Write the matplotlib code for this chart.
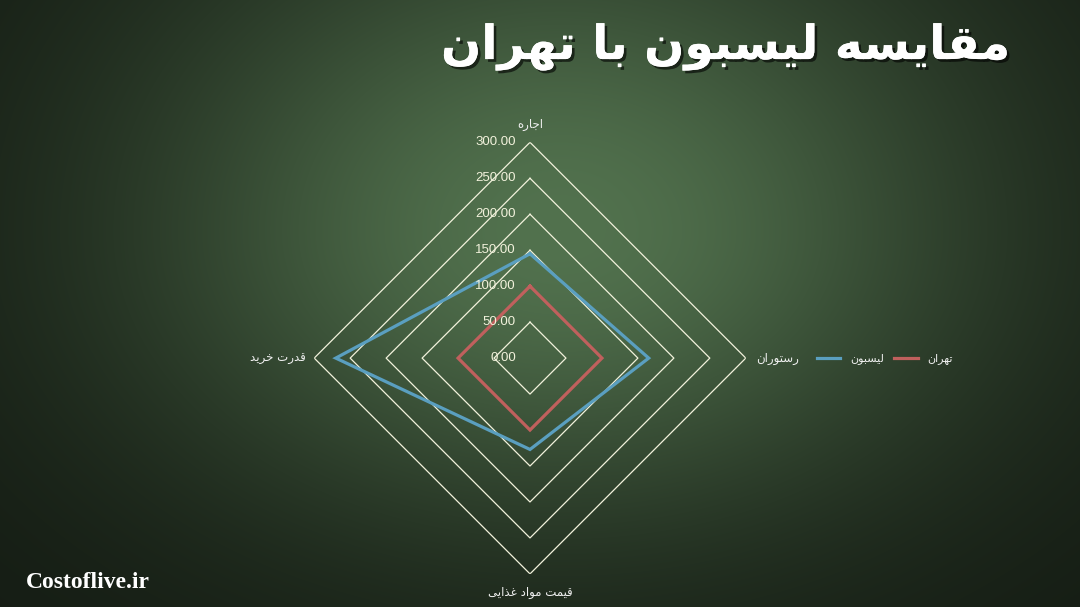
"""Radar chart: cost of living, Lisbon vs Tehran."""

import matplotlib.pyplot as plt
import matplotlib.patheffects as pe
import numpy as np
from matplotlib.lines import Line2D

TITLE = "مقایسه لیسبون با تهران"
CATEGORIES = ["اجاره", "رستوران", "قیمت مواد غذایی", "قدرت خرید"]
SERIES_NAMES = ["لیسبون", "تهران"]
LISBON = [145, 165, 127, 270]
TEHRAN = [100, 100, 100, 100]
GRID_LEVELS = [0, 50, 100, 150, 200, 250, 300]
TICK_LABELS = ["0.00", "50.00", "100.00", "150.00", "200.00", "250.00", "300.00"]
WATERMARK = "Costoflive.ir"

BLUE = "#5a9fc0"
RED = "#c0605d"
GRID = "#f2f2dc"

# isolated, final, initial, medial (None = letter does not join forward)
FORMS = {
    "ا": ("\uFE8D", "\uFE8E", None, None),
    "ب": ("\uFE8F", "\uFE90", "\uFE91", "\uFE92"),
    "ت": ("\uFE95", "\uFE96", "\uFE97", "\uFE98"),
    "ج": ("\uFE9D", "\uFE9E", "\uFE9F", "\uFEA0"),
    "خ": ("\uFEA5", "\uFEA6", "\uFEA7", "\uFEA8"),
    "د": ("\uFEA9", "\uFEAA", None, None),
    "ذ": ("\uFEAB", "\uFEAC", None, None),
    "ر": ("\uFEAD", "\uFEAE", None, None),
    "س": ("\uFEB1", "\uFEB2", "\uFEB3", "\uFEB4"),
    "غ": ("\uFECD", "\uFECE", "\uFECF", "\uFED0"),
    "ق": ("\uFED5", "\uFED6", "\uFED7", "\uFED8"),
    "ل": ("\uFEDD", "\uFEDE", "\uFEDF", "\uFEE0"),
    "م": ("\uFEE1", "\uFEE2", "\uFEE3", "\uFEE4"),
    "ن": ("\uFEE5", "\uFEE6", "\uFEE7", "\uFEE8"),
    "ه": ("\uFEE9", "\uFEEA", "\uFEEB", "\uFEEC"),
    "و": ("\uFEED", "\uFEEE", None, None),
    "ی": ("\uFBFC", "\uFBFD", "\uFBFE", "\uFBFF"),
}


def fa(text):
    """Join Persian letters into presentation forms and lay them out RTL."""
    out = []
    for i, ch in enumerate(text):
        if ch not in FORMS:
            out.append(ch)
            continue
        prev = text[i - 1] if i > 0 else ""
        nxt = text[i + 1] if i + 1 < len(text) else ""
        join_prev = prev in FORMS and FORMS[prev][2] is not None
        join_next = FORMS[ch][2] is not None and nxt in FORMS
        iso, fin, ini, med = FORMS[ch]
        if join_prev and join_next:
            out.append(med)
        elif join_prev:
            out.append(fin)
        elif join_next:
            out.append(ini)
        else:
            out.append(iso)
    return "".join(reversed(out))


W, H = 1080, 607
fig = plt.figure(figsize=(W / 100, H / 100), dpi=100)

# background: dark green, lighter towards the upper middle
bg = fig.add_axes([0, 0, 1, 1], zorder=0)
yy, xx = np.mgrid[0:H, 0:W]
sy = np.where(yy < 230, 330.0, 290.0)
t = np.exp(-((xx - 560) / 420.0) ** 2 - ((yy - 230) / sy) ** 2)
dark = np.array([20, 27, 19]) / 255
light = np.array([82, 114, 78]) / 255
img = dark + t[..., None] * (light - dark)
bg.imshow(img, extent=(0, W, H, 0), aspect="auto")
bg.set_xlim(0, W)
bg.set_ylim(H, 0)
bg.axis("off")

ax = fig.add_axes([314.2 / W, 33.1 / H, 431.6 / W, 431.6 / H],
                  projection="polar", zorder=1)
ax.patch.set_alpha(0)
ax.set_theta_zero_location("N")
ax.set_theta_direction(-1)
ax.set_ylim(0, 300)
ax.grid(False)
ax.set_xticks([])
ax.set_yticks([])
ax.spines["polar"].set_visible(False)

angles = np.linspace(0, 2 * np.pi, len(CATEGORIES), endpoint=False)
closed = np.append(angles, angles[0])

for level in GRID_LEVELS[1:]:
    ax.plot(closed, [level] * len(closed), color=GRID, lw=0.9)

for values, color in ((LISBON, BLUE), (TEHRAN, RED)):
    ax.plot(closed, values + values[:1], color=color, lw=2.3,
            solid_joinstyle="miter")

for level, lab in zip(GRID_LEVELS, TICK_LABELS):
    ax.annotate(lab, (0, level), xytext=(-14, 0), textcoords="offset pixels",
                ha="right", va="center", color=GRID, fontsize=9.5,
                family="Liberation Sans")

label_style = [((0, 11), "center", "bottom"), ((10, 0), "left", "center"),
               ((0, -12), "center", "top"), ((-8, 0), "right", "center")]
for ang, name, (off, ha, va) in zip(angles, CATEGORIES, label_style):
    ax.annotate(fa(name), (ang, 300), xytext=off, textcoords="offset pixels",
                ha=ha, va=va, color="#f0f0f0", fontsize=8.5,
                family="DejaVu Sans")

handles = [Line2D([], [], color=BLUE, lw=2.3), Line2D([], [], color=RED, lw=2.3)]
leg = fig.legend(handles, [fa(n) for n in SERIES_NAMES], ncol=2,
                 loc="center left", bbox_to_anchor=(817 / W, 1 - 359 / H),
                 frameon=False, borderpad=0, borderaxespad=0,
                 handlelength=2.1, handletextpad=0.9, columnspacing=0.9,
                 prop={"family": "DejaVu Sans", "size": 8})
for txt in leg.get_texts():
    txt.set_color("#f0f0f0")

fig.text(1010 / W, 1 - 47 / H, fa(TITLE), ha="right", va="center",
         color="white", fontsize=34, fontweight="bold", family="DejaVu Sans",
         path_effects=[pe.withSimplePatchShadow(offset=(2, -2),
                                                shadow_rgbFace="black",
                                                alpha=0.6),
                       pe.Normal()])

fig.text(26 / W, 1 - 583 / H, WATERMARK, ha="left", va="center",
         color="white", fontsize=17, fontweight="bold",
         family="Liberation Serif")

fig.savefig("out.png", dpi=100)
